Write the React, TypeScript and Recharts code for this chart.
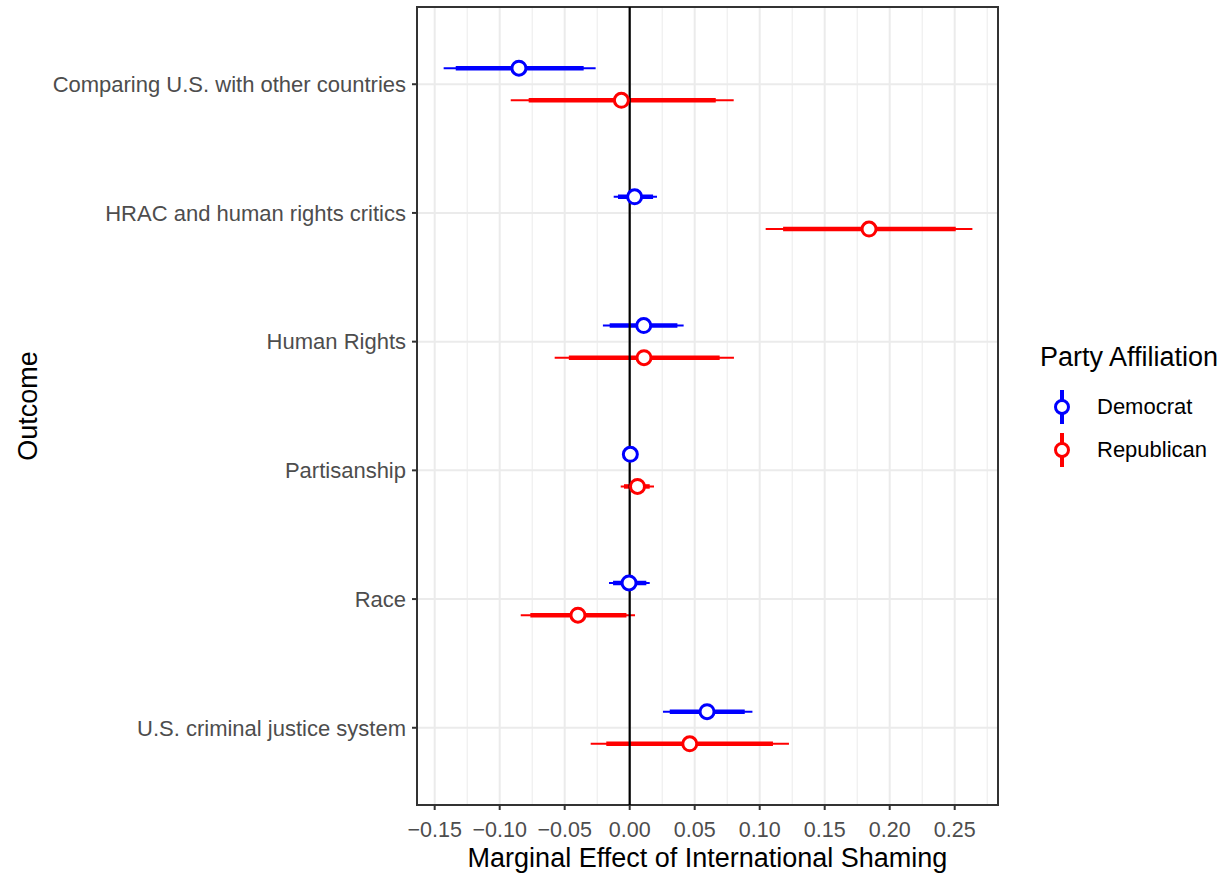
import React from "react";
import {
  ScatterChart,
  Scatter,
  XAxis,
  YAxis,
  CartesianGrid,
  ErrorBar,
  ReferenceLine,
  ReferenceArea,
} from "recharts";

const outcomes = [
  "Comparing U.S. with other countries",
  "HRAC and human rights critics",
  "Human Rights",
  "Partisanship",
  "Race",
  "U.S. criminal justice system",
];

// point estimates and intervals (thick = inner, thin = outer)
const demEst = [-0.0852, 0.0038, 0.0108, 0.0005, -0.0005, 0.0595];
const demThickLo = [-0.1338, -0.009, -0.0154, -0.003, -0.0128, 0.0308];
const demThickHi = [-0.0354, 0.018, 0.0367, 0.004, 0.0128, 0.0885];
const demThinLo = [-0.1431, -0.0123, -0.0206, -0.004, -0.0159, 0.0256];
const demThinHi = [-0.0262, 0.021, 0.0415, 0.005, 0.0154, 0.0944];

const repEst = [-0.0064, 0.1841, 0.011, 0.006, -0.0398, 0.0462];
const repThickLo = [-0.0777, 0.118, -0.0468, -0.0044, -0.0764, -0.018];
const repThickHi = [0.0662, 0.2508, 0.0692, 0.0154, -0.0025, 0.1102];
const repThinLo = [-0.0915, 0.1046, -0.0577, -0.0069, -0.0838, -0.03];
const repThinHi = [0.08, 0.2636, 0.0802, 0.0187, 0.0041, 0.1225];

const xTicks = [-0.15, -0.1, -0.05, 0, 0.05, 0.1, 0.15, 0.2, 0.25];
const xMinor = [-0.125, -0.075, -0.025, 0.025, 0.075, 0.125, 0.175, 0.225, 0.275];
const yTicks = [1, 2, 3, 4, 5, 6];

const X_DOMAIN: [number, number] = [-0.1636, 0.2833];
const Y_DOMAIN: [number, number] = [0.4, 6.6];
const DODGE = 0.125;

const FONT = '"Liberation Sans", Arial, Helvetica, sans-serif';
const DEM = "#0000ff";
const REP = "#ff0000";

const buildRows = (
  est: number[],
  thickLo: number[],
  thickHi: number[],
  thinLo: number[],
  thinHi: number[],
  offset: number
) =>
  est.map((v, i) => ({
    x: v,
    y: i + 1 + offset,
    thick: [v - thickLo[i], thickHi[i] - v],
    thin: [v - thinLo[i], thinHi[i] - v],
  }));

const demRows = buildRows(demEst, demThickLo, demThickHi, demThinLo, demThinHi, -DODGE);
const repRows = buildRows(repEst, repThickLo, repThickHi, repThinLo, repThinHi, DODGE);

const fmtX = (v: number) => {
  const s = Math.abs(v).toFixed(2);
  return v < -1e-9 ? "\u2212" + s : s;
};

const makeDot = (color: string) => (props: any) => {
  const { cx, cy } = props;
  if (cx == null || cy == null) return <g />;
  return <circle cx={cx} cy={cy} r={7} fill="#fff" stroke={color} strokeWidth={3} />;
};

const legendItems = [
  { name: "Democrat", color: DEM },
  { name: "Republican", color: REP },
];

const PartyLegend = () => (
  <div style={{ position: "absolute", left: 1040, top: 340, fontFamily: FONT }}>
    <div style={{ fontSize: 27, lineHeight: "34px", color: "#000", marginBottom: 11, whiteSpace: "nowrap" }}>
      Party Affiliation
    </div>
    {legendItems.map((it) => (
      <div key={it.name} style={{ display: "flex", alignItems: "center", height: 43 }}>
        <svg width={46} height={38}>
          <line x1={22} y1={2} x2={22} y2={36} stroke={it.color} strokeWidth={4} />
          <circle cx={22} cy={19} r={6.5} fill="#fff" stroke={it.color} strokeWidth={3} />
        </svg>
        <span style={{ fontSize: 22, color: "#000", marginLeft: 11, whiteSpace: "nowrap" }}>{it.name}</span>
      </div>
    ))}
  </div>
);

export default function App() {
  return (
    <div style={{ position: "absolute", left: 0, top: 0, width: 1230, height: 873, background: "#fff" }}>
      <ScatterChart
        width={1230}
        height={873}
        margin={{ top: 7, right: 232, left: 0, bottom: 0 }}
        style={{ fontFamily: FONT }}
      >
        <CartesianGrid
          horizontal={false}
          verticalValues={xMinor}
          stroke="#ebebeb"
          strokeWidth={1}
        />
        <CartesianGrid
          verticalValues={xTicks}
          horizontalValues={yTicks}
          stroke="#ebebeb"
          strokeWidth={2}
        />
        <XAxis
          type="number"
          dataKey="x"
          domain={X_DOMAIN}
          ticks={xTicks}
          tickFormatter={fmtX}
          allowDataOverflow
          axisLine={false}
          tickLine={{ stroke: "#333", strokeWidth: 2 }}
          tickSize={5}
          tickMargin={12}
          height={68}
          tick={{ fill: "#4d4d4d", fontSize: 21.5 }}
          label={{
            value: "Marginal Effect of International Shaming",
            position: "insideBottom",
            offset: 6,
            style: { fill: "#000", fontSize: 27 },
          }}
        />
        <YAxis
          type="number"
          dataKey="y"
          domain={Y_DOMAIN}
          ticks={yTicks}
          reversed
          allowDataOverflow
          interval={0}
          tickFormatter={(v: number) => outcomes[v - 1] ?? ""}
          axisLine={false}
          tickLine={{ stroke: "#333", strokeWidth: 2 }}
          tickSize={5}
          tickMargin={6}
          width={417}
          tick={{ fill: "#4d4d4d", fontSize: 22 }}
          label={{
            value: "Outcome",
            angle: -90,
            position: "insideLeft",
            offset: 27,
            style: { fill: "#000", fontSize: 27, textAnchor: "middle" },
          }}
        />
        <Scatter
          name="Democrat"
          data={demRows}
          fill={DEM}
          shape={makeDot(DEM)}
          isAnimationActive={false}
        >
          <ErrorBar dataKey={(d: any) => d.thin} direction="x" width={0} stroke={DEM} strokeWidth={2} isAnimationActive={false} />
          <ErrorBar dataKey={(d: any) => d.thick} direction="x" width={0} stroke={DEM} strokeWidth={4.5} isAnimationActive={false} />
        </Scatter>
        <Scatter
          name="Republican"
          data={repRows}
          fill={REP}
          shape={makeDot(REP)}
          isAnimationActive={false}
        >
          <ErrorBar dataKey={(d: any) => d.thin} direction="x" width={0} stroke={REP} strokeWidth={2} isAnimationActive={false} />
          <ErrorBar dataKey={(d: any) => d.thick} direction="x" width={0} stroke={REP} strokeWidth={4.5} isAnimationActive={false} />
        </Scatter>
        <ReferenceLine x={0} stroke="#000" strokeWidth={2.2} />
        <ReferenceArea
          x1={X_DOMAIN[0]}
          x2={X_DOMAIN[1]}
          y1={Y_DOMAIN[0]}
          y2={Y_DOMAIN[1]}
          fill="none"
          stroke="#333"
          strokeWidth={2}
        />
      </ScatterChart>
      <PartyLegend />
    </div>
  );
}
